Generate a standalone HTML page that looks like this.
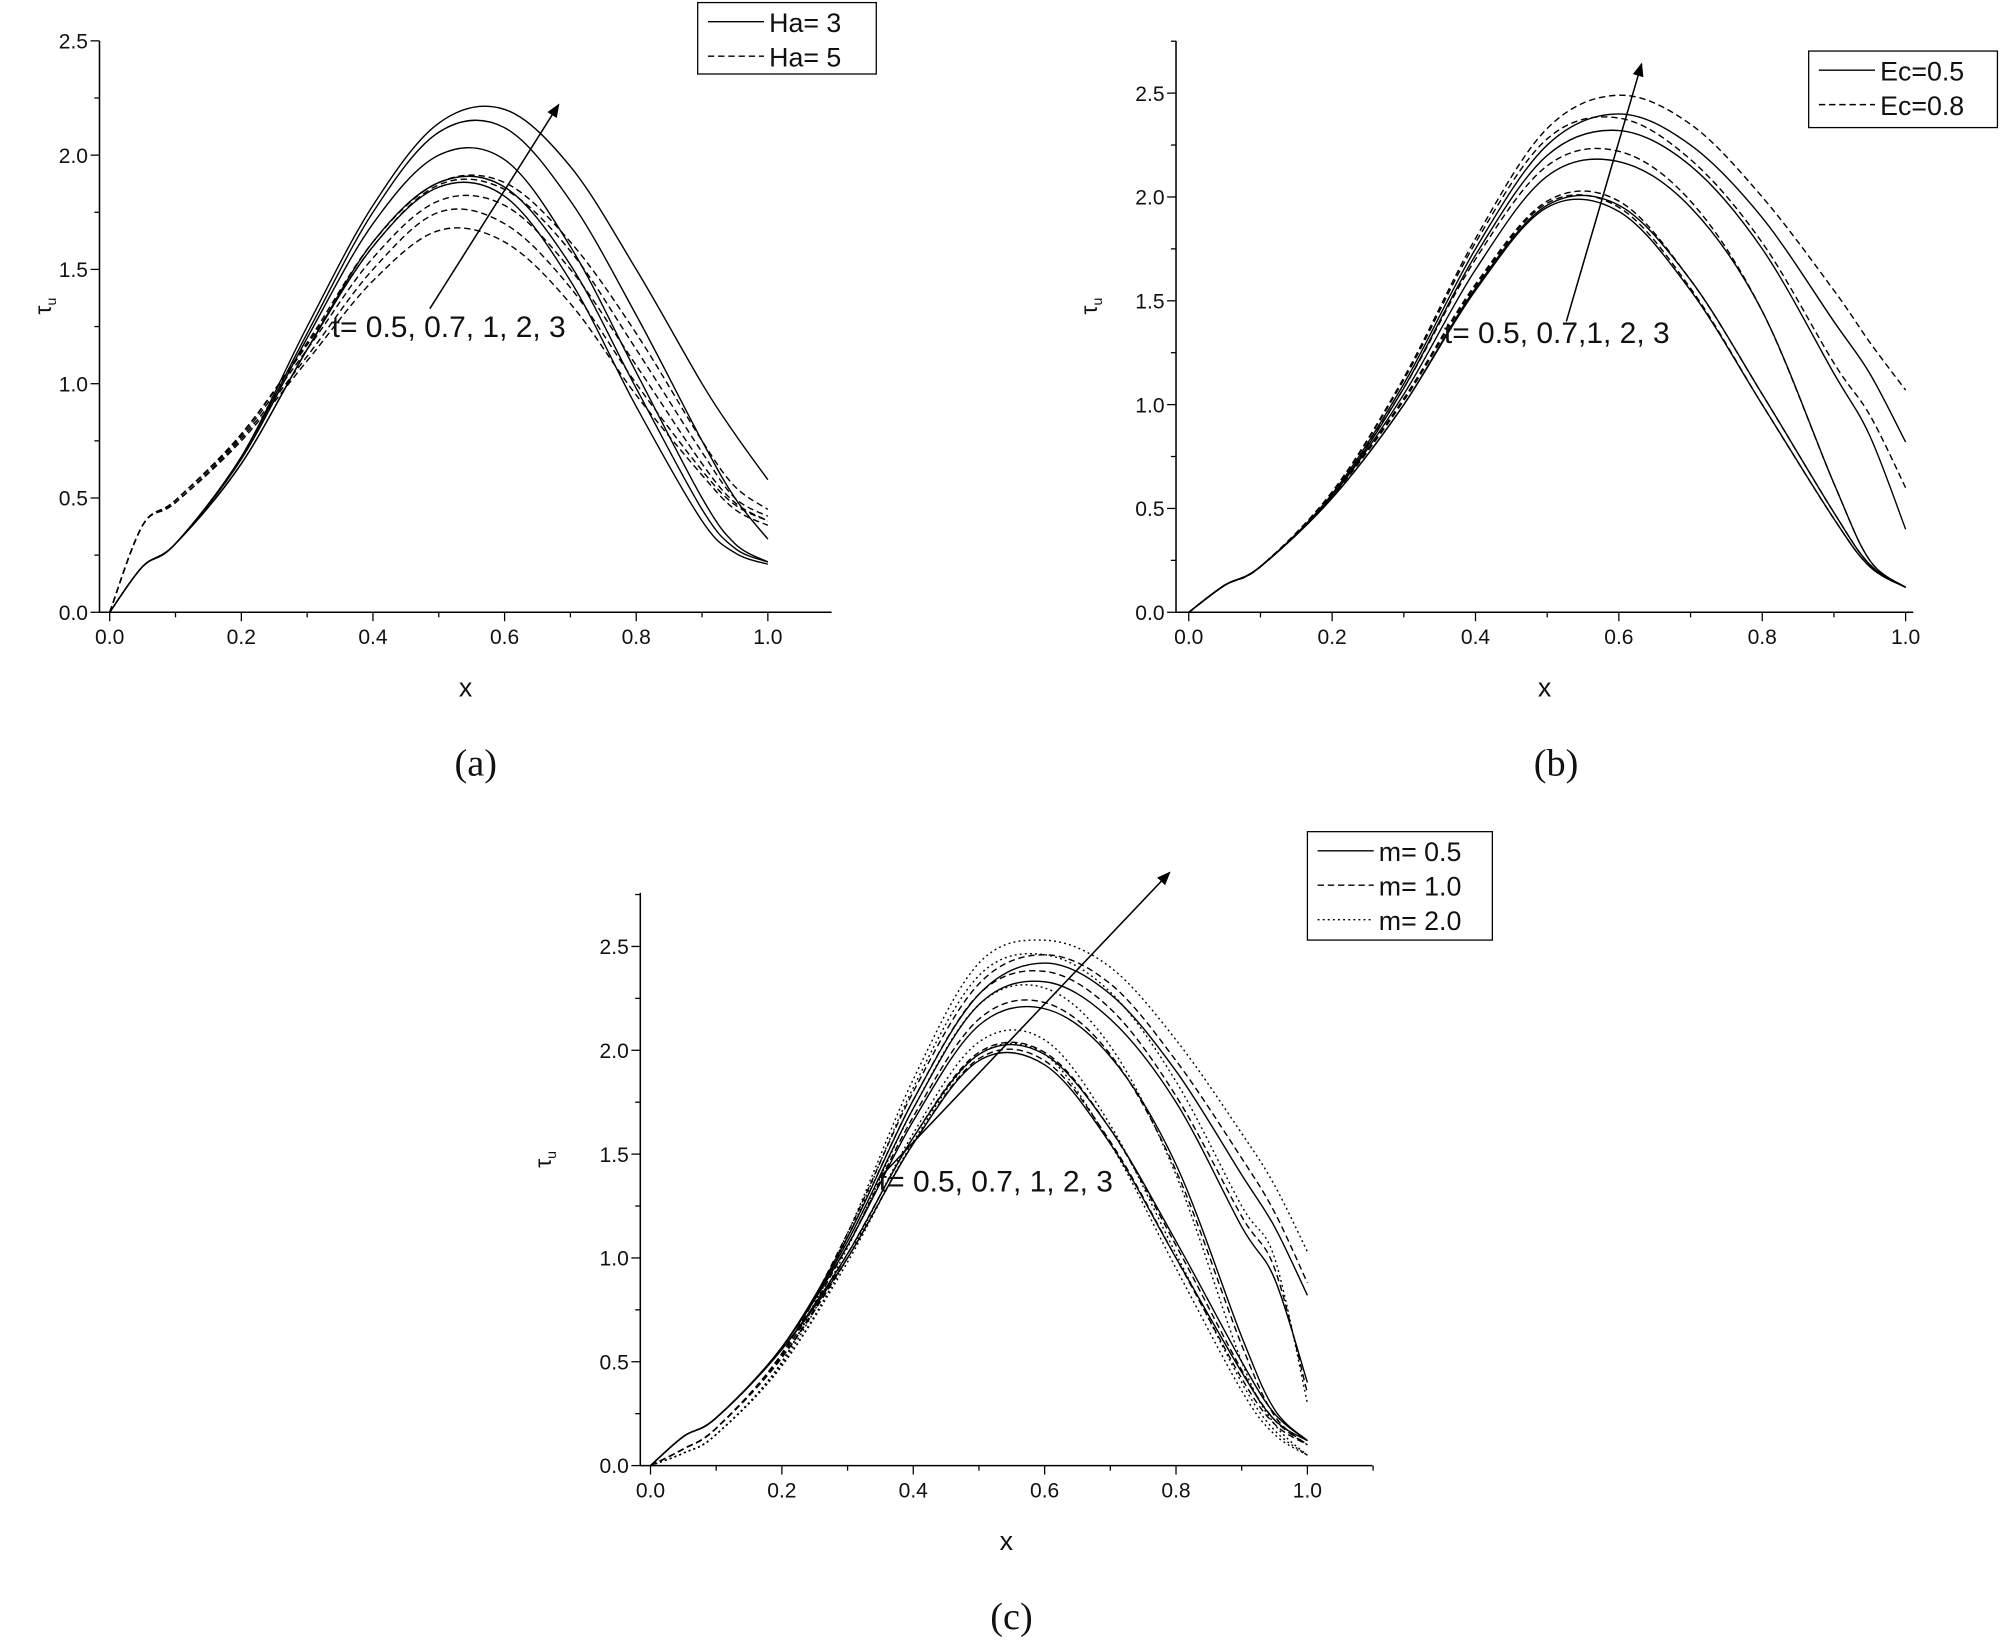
<!DOCTYPE html>
<html><head><meta charset="utf-8"><style>
html,body{margin:0;padding:0;background:#fff;}
svg{display:block;}
text{font-family:"Liberation Sans",sans-serif;fill:#111;}
</style></head><body>
<svg id="fig" width="2000" height="1641" viewBox="0 0 1568 1286.5" xmlns="http://www.w3.org/2000/svg">
<defs><marker id="ah" viewBox="0 0 10 10" refX="9" refY="5" markerWidth="9" markerHeight="9" orient="auto"><path d="M0,1 L10,5 L0,9 z" fill="#000"/></marker></defs>
</svg>
<script>
const xs=[0,0.05,0.1,0.2,0.3,0.4,0.5,0.6,0.7,0.8,0.9,0.95,1.0];
const xTicks=[0,0.2,0.4,0.6,0.8,1.0];
const yTicks=[0,0.5,1.0,1.5,2.0,2.5];
// Panel (a)
const aHa3=[
[0,0.2,0.3,0.65,1.15,1.6,1.86,1.82,1.45,0.9,0.4,0.26,0.21],
[0,0.2,0.3,0.65,1.15,1.62,1.88,1.86,1.52,0.98,0.45,0.28,0.22],
[0,0.2,0.3,0.67,1.2,1.7,2.0,1.98,1.6,1.05,0.5,0.3,0.22],
[0,0.2,0.3,0.68,1.22,1.75,2.1,2.12,1.8,1.3,0.75,0.5,0.32],
[0,0.2,0.3,0.68,1.25,1.78,2.14,2.2,1.95,1.5,1.0,0.78,0.58]];
const aHa5=[
[0,0.38,0.48,0.75,1.1,1.45,1.67,1.62,1.35,0.95,0.6,0.45,0.38],
[0,0.38,0.48,0.76,1.12,1.5,1.75,1.7,1.42,1.0,0.62,0.47,0.4],
[0,0.38,0.49,0.77,1.15,1.55,1.8,1.78,1.5,1.08,0.65,0.48,0.4],
[0,0.38,0.49,0.78,1.17,1.6,1.87,1.85,1.58,1.15,0.7,0.5,0.42],
[0,0.38,0.49,0.78,1.18,1.62,1.88,1.88,1.62,1.22,0.75,0.55,0.45]];
// Panel (b)
const bEc05=[
[0,0.13,0.22,0.55,1.0,1.55,1.95,1.93,1.55,1.0,0.45,0.22,0.12],
[0,0.13,0.22,0.55,1.0,1.56,1.96,1.96,1.6,1.05,0.48,0.23,0.12],
[0,0.13,0.22,0.56,1.05,1.65,2.1,2.17,1.95,1.45,0.62,0.25,0.12],
[0,0.13,0.22,0.56,1.08,1.72,2.2,2.32,2.15,1.75,1.15,0.85,0.4],
[0,0.13,0.22,0.57,1.1,1.75,2.25,2.4,2.25,1.9,1.4,1.15,0.82]];
const bEc08=[
[0,0.13,0.22,0.56,1.02,1.57,1.97,1.95,1.56,1.0,0.45,0.22,0.12],
[0,0.13,0.22,0.56,1.03,1.58,1.98,1.98,1.6,1.05,0.48,0.23,0.12],
[0,0.13,0.22,0.57,1.08,1.7,2.15,2.22,1.98,1.45,0.62,0.25,0.12],
[0,0.13,0.22,0.58,1.12,1.78,2.28,2.38,2.18,1.78,1.2,0.95,0.6],
[0,0.13,0.22,0.58,1.13,1.8,2.33,2.49,2.35,2.0,1.55,1.3,1.07]];
// Panel (c)
const cM05=[
[0,0.14,0.23,0.56,1.0,1.55,1.95,1.93,1.55,1.0,0.45,0.22,0.12],
[0,0.14,0.23,0.56,1.02,1.58,1.98,1.98,1.62,1.08,0.5,0.25,0.12],
[0,0.14,0.23,0.57,1.06,1.66,2.12,2.2,1.97,1.45,0.62,0.27,0.12],
[0,0.14,0.23,0.57,1.08,1.72,2.22,2.33,2.15,1.75,1.15,0.9,0.4],
[0,0.14,0.23,0.57,1.1,1.76,2.27,2.42,2.27,1.9,1.4,1.15,0.82]];
const cM10=[
[0,0.08,0.18,0.52,1.0,1.55,1.96,1.95,1.56,1.0,0.42,0.2,0.1],
[0,0.08,0.18,0.52,1.02,1.58,1.99,1.99,1.62,1.06,0.46,0.22,0.1],
[0,0.08,0.18,0.53,1.06,1.68,2.15,2.23,1.98,1.42,0.58,0.24,0.1],
[0,0.08,0.18,0.54,1.1,1.76,2.27,2.38,2.2,1.78,1.2,0.95,0.35],
[0,0.08,0.18,0.54,1.12,1.8,2.32,2.46,2.32,1.95,1.48,1.22,0.88]];
const cM20=[
[0,0.06,0.15,0.48,0.98,1.56,1.98,1.98,1.55,0.95,0.36,0.15,0.05],
[0,0.06,0.15,0.48,1.0,1.6,2.04,2.05,1.64,1.02,0.4,0.17,0.05],
[0,0.06,0.15,0.49,1.05,1.72,2.22,2.3,2.02,1.4,0.5,0.2,0.05],
[0,0.06,0.15,0.5,1.1,1.82,2.36,2.46,2.28,1.85,1.25,1.0,0.3],
[0,0.06,0.15,0.5,1.12,1.86,2.42,2.53,2.4,2.05,1.6,1.35,1.03]];

const svg=document.getElementById('fig');
const NS='http://www.w3.org/2000/svg';
function mk(tag,attrs,parent){const e=document.createElementNS(NS,tag);for(const k in attrs)e.setAttribute(k,attrs[k]);(parent||svg).appendChild(e);return e;}
function txt(s,x,y,size,anchor,parent,fam){const t=mk('text',{x:x,y:y,'font-size':size,'text-anchor':anchor||'start'},parent);if(fam)t.setAttribute('style','font-family:'+fam);t.textContent=s;return t;}

function panel(cfg){
  const g=mk('g',{});
  
  
  const X=v=>cfg.x0+(cfg.x1-cfg.x0)*v;
  const Y=v=>cfg.y0-(cfg.y0-cfg.y25)*v/2.5;
  const ax=mk('path',{d:`M${cfg.axL},${cfg.axT} L${cfg.axL},${cfg.y0} L${cfg.axR},${cfg.y0}`,stroke:'#000','stroke-width':1.2,fill:'none'},g);
  
  
  for(let v=0;v<=1.2001;v+=0.1){const px=X(v);if(px>cfg.axR+0.5)break;const major=Math.round(v*10)%2===0;mk('line',{x1:px,x2:px,y1:cfg.y0,y2:cfg.y0+(major?7:4),stroke:'#000','stroke-width':1},g);}
  xTicks.forEach(v=>{const t=txt(v.toFixed(1),X(v),cfg.y0+25,16.5,'middle',g);});
  for(let i=0;i<=11;i++){const v=i*0.25;const py=Y(v);if(py<cfg.axT-0.5)break;const major=i%2===0;mk('line',{x1:cfg.axL-(major?7:4),x2:cfg.axL,y1:py,y2:py,stroke:'#000','stroke-width':1},g);}
  yTicks.forEach(v=>{const t=txt(v.toFixed(1),cfg.axL-9,Y(v)+6,16.5,'end',g);});
  const xl=txt('x',(cfg.axL+cfg.axR)/2,cfg.y0+66,21,'middle',g);
  
  const yl=mk('text',{x:0,y:0,'font-size':18,'text-anchor':'middle',transform:`translate(${cfg.ylx},${cfg.y0-240}) rotate(-90)`},g);
  yl.innerHTML='τ<tspan font-size="11" dy="4">u</tspan>';
  
  cfg.series.forEach(s=>{
    s.data.forEach((arr,i)=>{
      const pts=arr.map((v,j)=>[X(xs[j]),Y(v)]);
      let d=`M${pts[0][0]},${pts[0][1]}`;
      for(let j=0;j<pts.length-1;j++){const p0=pts[Math.max(0,j-1)],p1=pts[j],p2=pts[j+1],p3=pts[Math.min(pts.length-1,j+2)];
        d+=` C${p1[0]+(p2[0]-p0[0])/6},${p1[1]+(p2[1]-p0[1])/6} ${p2[0]-(p3[0]-p1[0])/6},${p2[1]-(p3[1]-p1[1])/6} ${p2[0]},${p2[1]}`;}
      const p=mk('path',{d:d,fill:'none',stroke:'#000','stroke-width':1.1,'stroke-dasharray':s.dash},g);
      
      
    });
  });
  const L=cfg.leg;
  const lg=mk('g',{},g);
  
  mk('rect',{x:L.x,y:L.y,width:L.w,height:L.h,fill:'#fff',stroke:'#000','stroke-width':1},lg);
  cfg.series.forEach((s,i)=>{
    const ly=L.y+15+i*27;
    const le=mk('g',{},lg);
    
    mk('line',{x1:L.x+8,x2:L.x+52,y1:ly,y2:ly,stroke:'#000','stroke-width':1.1,'stroke-dasharray':s.dash},le);
    txt(s.label,L.x+56,ly+8,21,'start',le);
  });
  const ar=mk('line',{x1:cfg.arrow[0],y1:cfg.arrow[1],x2:cfg.arrow[2],y2:cfg.arrow[3],stroke:'#000','stroke-width':1.2,'marker-end':'url(#ah)'},g);
  
  const an=txt(cfg.annot,cfg.annotXY[0],cfg.annotXY[1],23.5,'start',g);
  
  const cap=txt(cfg.cap,cfg.capXY[0],cfg.capXY[1],30,'middle',g,'"Liberation Serif",serif');
  
}
panel({name:'panel-a',x0:86,x1:602,axL:78,axR:652,axT:32,y0:480,y25:32,ylx:40,
  series:[{key:'ha3',label:'Ha= 3',dash:'none',data:aHa3},{key:'ha5',label:'Ha= 5',dash:'5,3',data:aHa5}],
  leg:{x:547,y:2,w:140,h:56},arrow:[337,242,438,82],annot:'t= 0.5, 0.7, 1, 2, 3',annotXY:[260,264],cap:'(a)',capXY:[373,608]});
panel({name:'panel-b',x0:932,x1:1494,axL:922,axR:1500,axT:32,y0:480,y25:73,ylx:860,
  series:[{key:'ec05',label:'Ec=0.5',dash:'none',data:bEc05},{key:'ec08',label:'Ec=0.8',dash:'5,3',data:bEc08}],
  leg:{x:1418,y:40,w:148,h:60},arrow:[1228,252,1287,50],annot:'t= 0.5, 0.7,1, 2, 3',annotXY:[1132,269],cap:'(b)',capXY:[1220,608]});
panel({name:'panel-c',x0:510,x1:1025,axL:502,axR:1076,axT:700,y0:1149,y25:742,ylx:432,
  series:[{key:'m05',label:'m= 0.5',dash:'none',data:cM05},{key:'m10',label:'m= 1.0',dash:'5,3',data:cM10},{key:'m20',label:'m= 2.0',dash:'1.5,2.5',data:cM20}],
  leg:{x:1025,y:652,w:145,h:85},arrow:[688,925,917,684],annot:'t= 0.5, 0.7, 1, 2, 3',annotXY:[689,934],cap:'(c)',capXY:[793,1277]});
</script>
</body></html>
